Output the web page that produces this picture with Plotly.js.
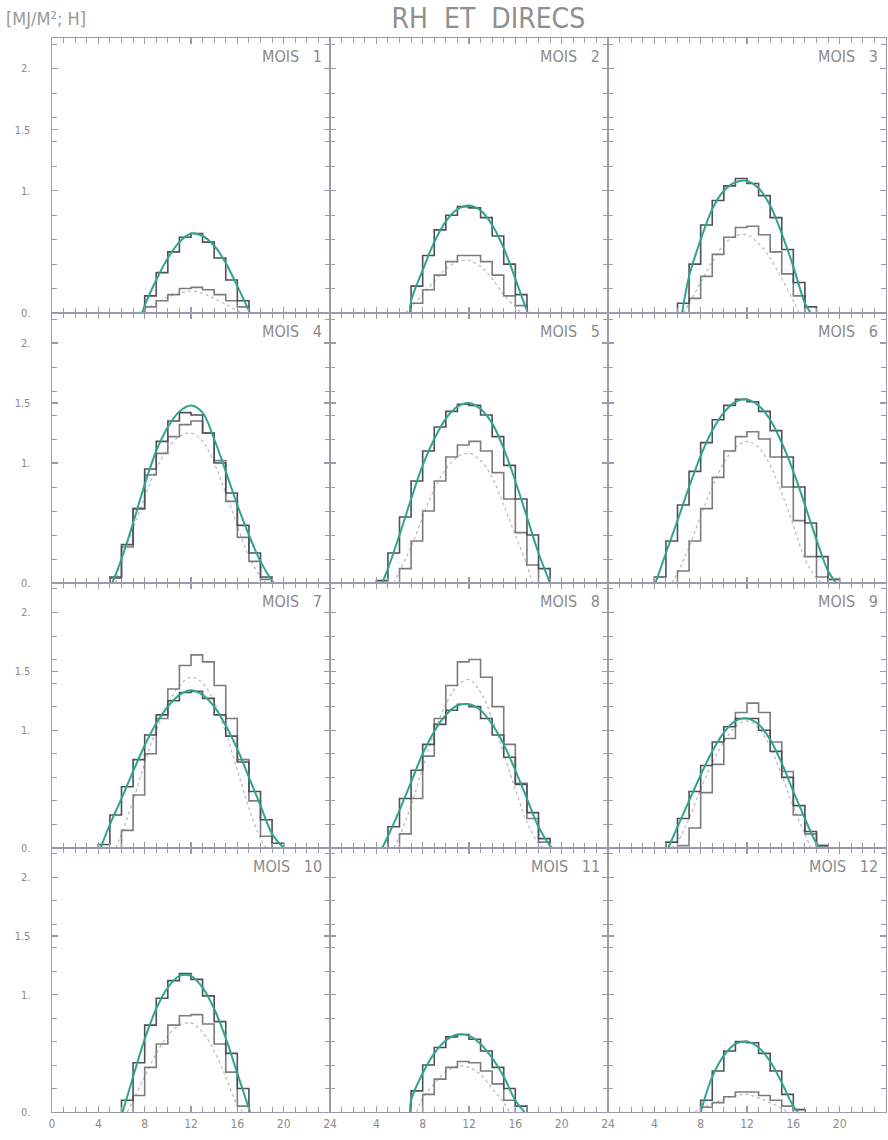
<!DOCTYPE html>
<html>
<head>
<meta charset="utf-8">
<script src="https://cdn.plot.ly/plotly-3.0.1.min.js"></script>
<style>
html,body{margin:0;padding:0;background:#fff;}
#chart{width:888px;height:1140px;}
</style>
</head>
<body>
<div id="chart"></div>
<script>
// ---------- data ----------
const HOURS = [4,5,6,7,8,9,10,11,12,13,14,15,16,17,18,19,20];
const MONTHS = [1,2,3,4,5,6,7,8,9,10,11,12];
const SUNRISE = [7.8, 6.9, 6.4, 5.2, 4.5, 4.1, 4.2, 4.5, 5.2, 6.1, 6.9, 8.0];
const SUNSET  = [17.1, 17.1, 17.5, 19.2, 19.0, 19.7, 20.0, 19.2, 18.4, 17.1, 16.8, 16.4];

// smooth (green) curve, hourly values
const G1  = [0,0,0,0,.06,.27,.45,.58,.65,.63,.55,.41,.22,.02,0,0,0];
const G2  = [0,0,0,.1,.35,.58,.75,.85,.88,.84,.72,.53,.28,.02,0,0,0];
const G3  = [0,0,0,.3,.6,.85,1.0,1.07,1.08,1.02,.88,.65,.38,.08,0,0,0];
const G4  = [0,0,.2,.5,.82,1.1,1.3,1.43,1.48,1.42,1.2,.93,.65,.4,.18,.02,0];
const G5  = [0,.12,.4,.7,.98,1.2,1.37,1.47,1.5,1.45,1.33,1.12,.85,.55,.25,0,0];
const G6  = [0,.25,.52,.8,1.06,1.27,1.42,1.51,1.53,1.48,1.36,1.17,.93,.65,.36,.1,0];
const G7  = [0,.2,.42,.65,.87,1.06,1.2,1.3,1.34,1.3,1.2,1.04,.84,.6,.36,.12,0];
const G8  = [0,.1,.32,.56,.8,.99,1.13,1.21,1.22,1.17,1.05,.88,.66,.42,.18,.02,0];
const G9  = [0,0,.18,.4,.62,.82,.98,1.08,1.1,1.05,.92,.72,.48,.25,.04,0,0];
const G10 = [0,0,0,.3,.62,.88,1.06,1.16,1.16,1.06,.88,.63,.33,.03,0,0,0];
const G11 = [0,0,0,.1,.33,.5,.61,.66,.65,.58,.46,.3,.1,0,0,0,0];
const G12 = [0,0,0,0,0,.3,.48,.58,.6,.55,.43,.25,.05,0,0,0,0];

// dark hourly histogram
const A1  = [0,0,0,0,.14,.33,.5,.62,.65,.58,.45,.27,.1,0,0,0,0];
const A2  = [0,0,0,.22,.47,.68,.8,.87,.86,.78,.63,.4,.15,0,0,0,0];
const A3  = [0,0,.08,.4,.72,.92,1.04,1.1,1.06,.96,.78,.52,.25,.05,0,0,0];
const A4  = [0,.05,.32,.62,.95,1.18,1.35,1.42,1.4,1.25,1.0,.75,.48,.25,.05,0,0];
const A5  = [.02,.25,.55,.85,1.1,1.3,1.43,1.49,1.48,1.4,1.22,.98,.7,.4,.12,0,0];
const A6  = [.05,.35,.65,.93,1.17,1.36,1.48,1.53,1.51,1.43,1.27,1.05,.8,.5,.22,.03,0];
const A7  = [.03,.28,.52,.75,.96,1.13,1.25,1.32,1.33,1.27,1.13,.95,.73,.48,.24,.04,0];
const A8  = [0,.18,.42,.66,.88,1.05,1.17,1.22,1.2,1.1,.96,.77,.54,.3,.08,0,0];
const A9  = [0,.05,.25,.48,.7,.9,1.03,1.1,1.1,1.0,.82,.6,.36,.14,.02,0,0];
const A10 = [0,0,.1,.42,.74,.97,1.12,1.18,1.13,.99,.77,.5,.2,0,0,0,0];
const A11 = [0,0,0,.18,.4,.55,.64,.66,.62,.52,.38,.2,.05,0,0,0,0];
const A12 = [0,0,0,0,.1,.35,.52,.6,.59,.5,.35,.15,.02,0,0,0,0];

// grey hourly histogram
const B1  = [0,0,0,0,.05,.1,.15,.2,.21,.19,.15,.1,.05,0,0,0,0];
const B2  = [0,0,0,.08,.19,.31,.42,.47,.47,.42,.31,.14,.06,0,0,0,0];
const B3  = [0,0,0,.12,.3,.48,.62,.7,.71,.64,.5,.32,.14,0,0,0,0];
const B4  = [0,.04,.3,.62,.9,1.08,1.22,1.32,1.35,1.25,1.02,.68,.38,.18,.03,0,0];
const B5  = [0,0,.12,.35,.6,.85,1.05,1.15,1.18,1.1,.92,.7,.42,.15,0,0,0];
const B6  = [0,0,.1,.35,.62,.88,1.1,1.22,1.26,1.2,1.05,.8,.52,.22,.05,0,0];
const B7  = [0,0,.15,.45,.8,1.1,1.35,1.55,1.64,1.58,1.38,1.1,.75,.4,.1,0,0];
const B8  = [0,0,.12,.42,.78,1.1,1.38,1.58,1.6,1.45,1.2,.88,.55,.25,.05,0,0];
const B9  = [0,0,.02,.17,.47,.71,.93,1.15,1.23,1.15,.9,.65,.28,.12,.02,0,0];
const B10 = [0,0,0,.14,.38,.58,.74,.82,.83,.75,.58,.34,.05,0,0,0,0];
const B11 = [0,0,0,0,.15,.28,.38,.43,.42,.35,.24,.1,0,0,0,0,0];
const B12 = [0,0,0,0,.04,.08,.13,.17,.17,.14,.1,.05,0,0,0,0,0];

// dotted curve
const D1  = [0,0,0,0,.03,.08,.13,.16,.18,.16,.12,.07,.02,0,0,0,0];
const D2  = [0,0,0,.05,.15,.26,.36,.42,.43,.38,.28,.15,.05,0,0,0,0];
const D3  = [0,0,0,.08,.25,.42,.56,.63,.64,.57,.45,.28,.1,0,0,0,0];
const D4  = [0,0,.2,.45,.72,.95,1.12,1.22,1.25,1.18,1.0,.75,.48,.22,.05,0,0];
const D5  = [0,0,.1,.3,.55,.78,.95,1.05,1.08,1.02,.88,.65,.4,.15,0,0,0];
const D6  = [0,0,.08,.3,.56,.8,1.0,1.13,1.18,1.13,.98,.75,.48,.2,.04,0,0];
const D7  = [0,0,.12,.4,.72,1.0,1.22,1.38,1.45,1.4,1.24,.98,.66,.34,.08,0,0];
const D8  = [0,0,.1,.36,.68,.98,1.22,1.38,1.43,1.32,1.1,.8,.5,.22,.04,0,0];
const D9  = [0,0,.05,.25,.5,.72,.9,1.03,1.08,1.02,.86,.62,.35,.12,0,0,0];
const D10 = [0,0,0,.1,.3,.5,.65,.74,.76,.68,.52,.3,.06,0,0,0,0];
const D11 = [0,0,0,0,.12,.24,.34,.39,.38,.32,.2,.08,0,0,0,0,0];
const D12 = [0,0,0,0,.03,.07,.11,.14,.15,.12,.08,.03,0,0,0,0,0];

const X_TICKS = [0,4,8,12,16,20,24];
const Y_TICKS = [0,1,1.5,2];
const Y_TEXT = ['0.','1.','1.5','2.'];

const GREEN = [G1,G2,G3,G4,G5,G6,G7,G8,G9,G10,G11,G12];
const DARK  = [A1,A2,A3,A4,A5,A6,A7,A8,A9,A10,A11,A12];
const GREY  = [B1,B2,B3,B4,B5,B6,B7,B8,B9,B10,B11,B12];
const DOT   = [D1,D2,D3,D4,D5,D6,D7,D8,D9,D10,D11,D12];

// ---------- build ----------
const FRAME = '#9a9aaa';
const TXT = '#8a8a8a';
const FONT = '"DejaVu Sans Condensed","Liberation Sans Narrow","DejaVu Sans",sans-serif';

function stepTrace(vals) {
  const first = vals.findIndex(v => v > 0);
  const last = vals.length - 1 - [...vals].reverse().findIndex(v => v > 0);
  const x = [HOURS[first]], y = [0];
  for (let i = first; i <= last; i++) { x.push(HOURS[i]); y.push(vals[i]); }
  x.push(HOURS[last] + 1); y.push(0);
  return {x, y};
}

const traces = [];
const layout = {
  width: 888, height: 1140,
  margin: {l: 52, r: 2, t: 38, b: 28},
  paper_bgcolor: '#ffffff', plot_bgcolor: '#ffffff',
  showlegend: false,
  font: {family: FONT, color: TXT},
  title: {text: 'RH\u00a0\u00a0ET\u00a0\u00a0DIRECS', x: 0.55, xanchor: 'center', xref: 'container', y: 0.984, yref: 'container', yanchor: 'middle',
          font: {family: FONT, size: 28, color: '#8f8f8f'}},
  annotations: [
    {text: '[MJ/M²;\u00a0H]', xref: 'paper', yref: 'paper', x: -0.058, y: 1.0186, xanchor: 'left', yanchor: 'middle',
     showarrow: false, font: {family: FONT, size: 18, color: '#9a9a9a'}}
  ]
};

const rowPx = [[38,313],[313,583],[583,848],[848,1112]];
const H = 1140 - 38 - 28;

MONTHS.forEach((m, k) => {
  const r = Math.floor(k / 3), c = k % 3;
  const sfx = k === 0 ? '' : String(k + 1);
  const xa = 'x' + sfx, ya = 'y' + sfx;
  const dom = [(1112 - rowPx[r][1]) / H, (1112 - rowPx[r][0]) / H];

  // dotted curve
  const dv = DOT[k];
  const dF = dv.findIndex(v => v > 0), dL = dv.length - 1 - [...dv].reverse().findIndex(v => v > 0);
  const dx = [HOURS[dF] - 0.5], dy = [0];
  for (let i = dF; i <= dL; i++) { dx.push(HOURS[i]); dy.push(dv[i]); }
  dx.push(HOURS[dL] + 0.5); dy.push(0);
  traces.push({x: dx, y: dy, xaxis: xa, yaxis: ya, mode: 'lines',
    line: {color: '#b8b8b8', width: 1.2, dash: 'dot', shape: 'spline'}, hoverinfo: 'skip'});

  // grey histogram
  const gs = stepTrace(GREY[k]);
  traces.push({x: gs.x, y: gs.y, xaxis: xa, yaxis: ya, mode: 'lines',
    line: {color: '#7c7c7c', width: 1.6, shape: 'hv'}, hoverinfo: 'skip'});

  // dark histogram
  const ds = stepTrace(DARK[k]);
  traces.push({x: ds.x, y: ds.y, xaxis: xa, yaxis: ya, mode: 'lines',
    line: {color: '#4c5058', width: 1.6, shape: 'hv'}, hoverinfo: 'skip'});

  // green smooth curve
  const gx = [SUNRISE[k]], gy = [0];
  HOURS.forEach((h, i) => { if (h > SUNRISE[k] && h < SUNSET[k] && GREEN[k][i] > 0) { gx.push(h); gy.push(GREEN[k][i]); } });
  gx.push(SUNSET[k]); gy.push(0);
  traces.push({x: gx, y: gy, xaxis: xa, yaxis: ya, mode: 'lines',
    line: {color: '#2fa58a', width: 2, shape: 'spline', smoothing: 1}, hoverinfo: 'skip'});

  const bottom = r === 3;
  const xt = c === 0 ? X_TICKS : X_TICKS.slice(1);
  layout['xaxis' + sfx] = {
    domain: [c / 3, (c + 1) / 3], anchor: ya, range: [0, 24],
    showline: true, linecolor: FRAME, linewidth: 1.4, mirror: 'allticks',
    ticks: 'inside', ticklen: 6, tickwidth: 1.2, tickcolor: FRAME,
    tickmode: 'array', tickvals: xt, ticktext: xt.map(String),
    showticklabels: bottom, tickfont: {family: FONT, size: 12, color: TXT},
    minor: {tickmode: 'linear', tick0: 0, dtick: 1, ticks: 'inside', ticklen: 5, tickcolor: FRAME, tickwidth: 1},
    showgrid: false, zeroline: false, fixedrange: true
  };
  layout['yaxis' + sfx] = {
    domain: dom, anchor: xa, range: [0, 2.25],
    showline: true, linecolor: FRAME, linewidth: 1.4, mirror: 'allticks',
    ticks: 'inside', ticklen: 6, tickwidth: 1.2, tickcolor: FRAME,
    tickmode: 'array', tickvals: Y_TICKS, ticktext: Y_TEXT,
    showticklabels: c === 0, ticklabelstandoff: 18, tickfont: {family: FONT, size: 11, color: TXT},
    minor: {tickmode: 'linear', tick0: 0, dtick: 0.2, ticks: 'inside', ticklen: 5, tickcolor: FRAME, tickwidth: 1},
    showgrid: false, zeroline: false, fixedrange: true
  };
  layout.annotations.push({
    text: 'MOIS\u00a0\u00a0\u00a0' + m, xref: xa + ' domain', yref: ya + ' domain',
    x: 0.98, y: 0.975, xanchor: 'right', yanchor: 'top', showarrow: false,
    font: {family: FONT, size: 16, color: '#8a8a8a'}
  });
});

Plotly.newPlot('chart', traces, layout, {displayModeBar: false, staticPlot: true});
</script>
</body>
</html>
